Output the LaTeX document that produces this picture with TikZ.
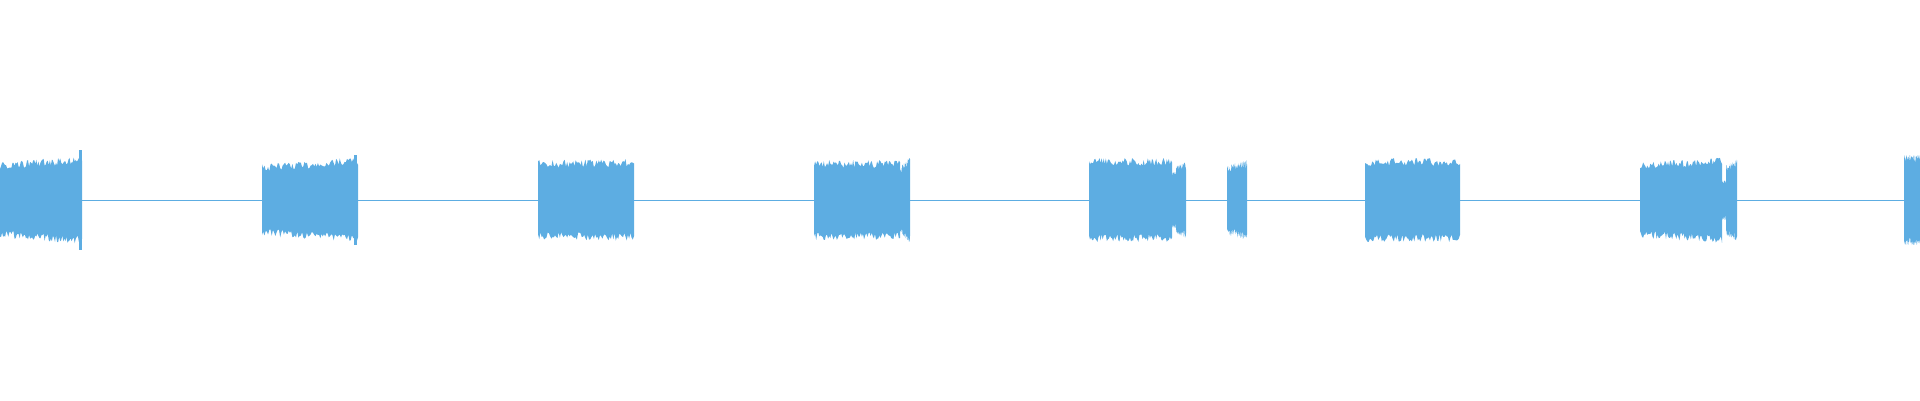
\documentclass[tikz,border=0pt]{standalone}
\definecolor{wave}{RGB}{93,173,226}
\newcommand{\burst}[4]{%
  \fill[wave] plot[samples=80,domain=#1:#2] (\x,{200-(#3+(#4-#3)*(\x-#1)/(#2-#1))-8*rnd})
   -- plot[samples=80,domain=#2:#1] (\x,{200+(#3+(#4-#3)*(\x-#1)/(#2-#1))+8*rnd}) -- cycle;}
\begin{document}
\begin{tikzpicture}[x=1pt,y=-1pt]
\pgfmathsetmacro{\dummy}{0}\pgfmathsetseed{7}
\useasboundingbox (0,0) rectangle (1920,400);
\draw[wave,line width=1pt] (0,200) -- (1920,200);
\burst{0}{82}{30}{36}
\fill[wave] (79,200) rectangle (82,150);\fill[wave] (79,200) rectangle (82,250);
\burst{262}{358}{28}{35}
\fill[wave] (354,200) rectangle (357,155);\fill[wave] (354,200) rectangle (357,245);
\burst{538}{634}{32}{33}
\burst{814}{900}{32}{32}
\burst{900}{910}{25}{35}
\burst{1089}{1172}{34}{34}
\burst{1172}{1176}{20}{20}
\burst{1176}{1186}{26}{30}
\burst{1227}{1247}{27}{32}
\burst{1365}{1460}{34}{34}
\burst{1640}{1722}{30}{35}
\burst{1722}{1726}{12}{12}
\burst{1726}{1737}{27}{33}
\burst{1904}{1920}{37}{37}
\end{tikzpicture}
\end{document}
